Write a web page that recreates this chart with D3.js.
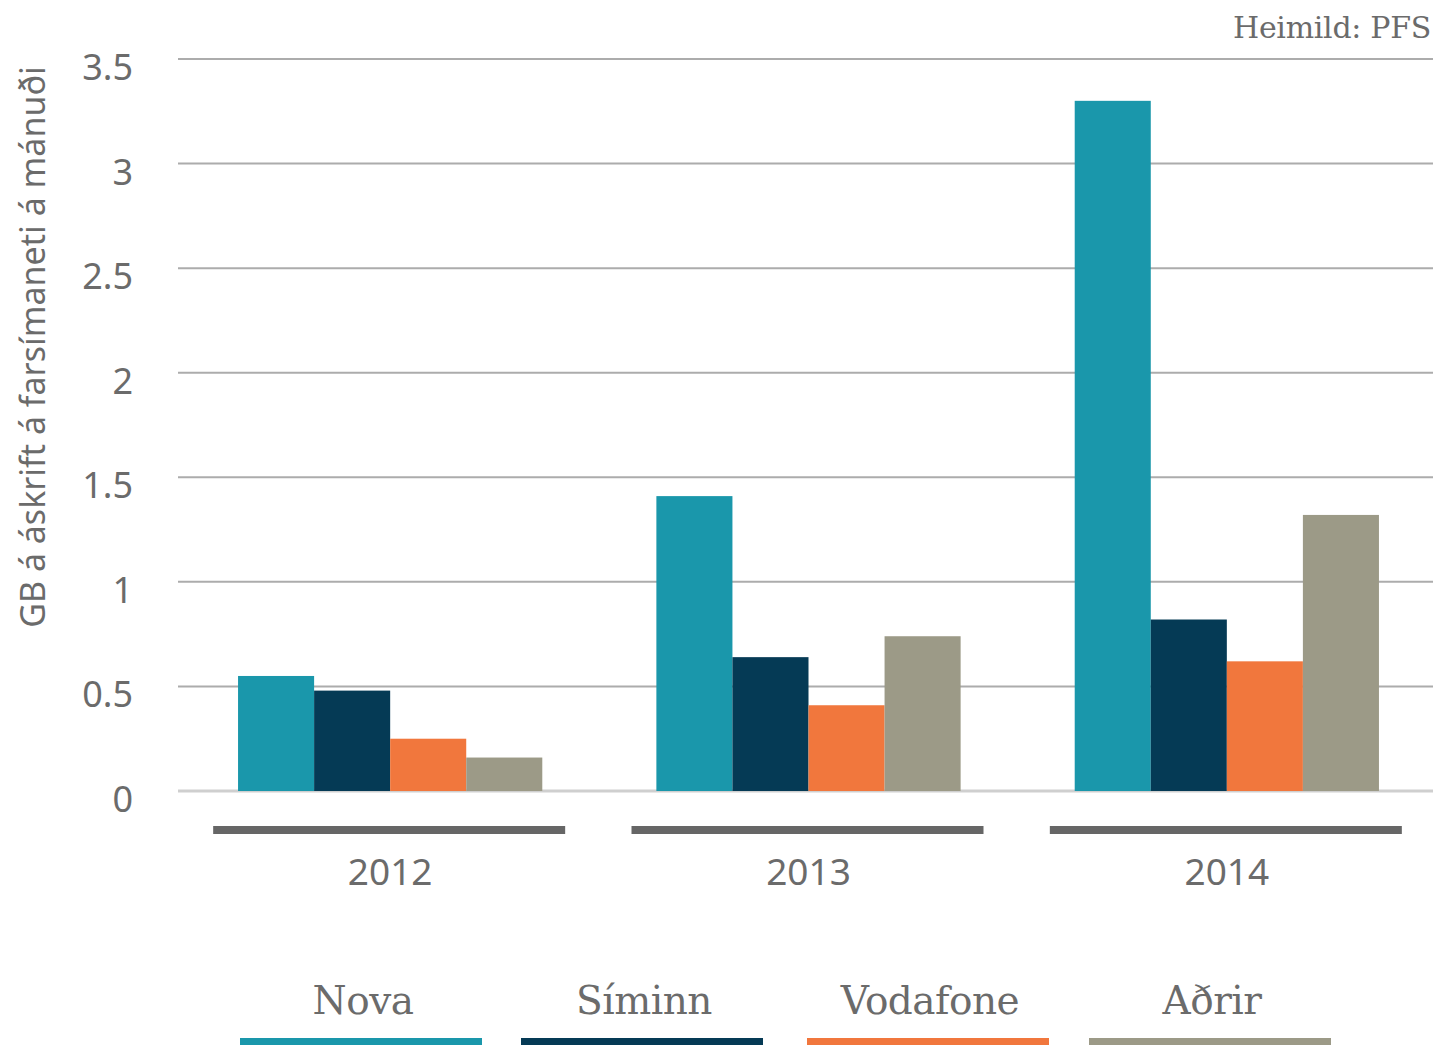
<!DOCTYPE html>
<html>
<head>
<meta charset="utf-8">
<script src="https://cdn.jsdelivr.net/npm/d3@7"></script>
<style>
  body { margin: 0; background: #fff; }
  svg text { fill: #6b6b6b; }
</style>
</head>
<body>
<svg id="chart" width="1437" height="1045"></svg>
<script>
var years = ["2012", "2013", "2014"];
var companies = ["Nova", "Síminn", "Vodafone", "Aðrir"];
var nova = [0.55, 1.41, 3.30];
var siminn = [0.48, 0.64, 0.82];
var vodafone = [0.25, 0.41, 0.62];
var adrir = [0.16, 0.74, 1.32];
var yTicks = [0, 0.5, 1, 1.5, 2, 2.5, 3, 3.5];
var colors = ["#1a97ab", "#053a55", "#f1773d", "#9c9a87"];

var series = [nova, siminn, vodafone, adrir];

var svg = d3.select("#chart"),
  plotLeft = 178, plotRight = 1433, plotTop = 59, plotBottom = 791;

var sans = "'Noto Sans', 'Open Sans', sans-serif",
  slab = "'DejaVu Serif', serif";

var x0 = d3.scaleBand().domain(years).range([plotLeft, plotRight]);
var x1 = d3.scaleBand().domain(companies)
  .range([3, x0.bandwidth() + 3]).paddingOuter(0.75).paddingInner(0);
var y = d3.scaleLinear().domain([0, 3.5]).range([plotBottom, plotTop]);

// gridlines
svg.append("g").selectAll("line")
  .data(yTicks)
  .join("line")
  .attr("x1", plotLeft).attr("x2", plotRight)
  .attr("y1", function (d) { return y(d); })
  .attr("y2", function (d) { return y(d); })
  .attr("stroke", function (d) { return d === 0 ? "#cfcfcf" : "#acacac"; })
  .attr("stroke-width", function (d) { return d === 0 ? 3 : 2; });

// y tick labels
svg.append("g").selectAll("text")
  .data(yTicks)
  .join("text")
  .attr("x", 133)
  .attr("y", function (d) { return y(d) + 21; })
  .attr("text-anchor", "end")
  .style("font-family", sans)
  .style("font-size", "36px")
  .text(function (d) { return d; });

// axis title
svg.append("text")
  .attr("transform", "translate(45,347) rotate(-90)")
  .attr("text-anchor", "middle")
  .style("font-family", sans)
  .style("font-size", "34px")
  .text("GB á áskrift á farsímaneti á mánuði");

// bars
var groups = svg.append("g").selectAll("g")
  .data(years)
  .join("g")
  .attr("transform", function (d) { return "translate(" + x0(d) + ",0)"; });

groups.selectAll("rect")
  .data(function (d, i) {
    return companies.map(function (c, j) { return { company: c, value: series[j][i], color: colors[j] }; });
  })
  .join("rect")
  .attr("x", function (d) { return x1(d.company); })
  .attr("width", x1.bandwidth())
  .attr("y", function (d) { return y(d.value); })
  .attr("height", function (d) { return y(0) - y(d.value); })
  .attr("fill", function (d) { return d.color; });

// category bars and labels
groups.append("rect")
  .attr("x", x0.bandwidth() / 2 - 174)
  .attr("width", 352)
  .attr("y", 826)
  .attr("height", 8)
  .attr("fill", "#666");

groups.append("text")
  .attr("x", x0.bandwidth() / 2 + 3)
  .attr("y", 885)
  .attr("text-anchor", "middle")
  .style("font-family", sans)
  .style("font-size", "37px")
  .text(function (d) { return d; });

// source
svg.append("text")
  .attr("x", 1431)
  .attr("y", 38)
  .attr("text-anchor", "end")
  .style("font-family", slab)
  .style("font-size", "30px")
  .style("letter-spacing", "-0.3px")
  .text("Heimild: PFS");

// legend
var legendX = d3.scaleOrdinal().domain(companies).range([240, 521, 807, 1089]);
var legend = svg.append("g").selectAll("g")
  .data(companies)
  .join("g")
  .attr("transform", function (d) { return "translate(" + legendX(d) + ",0)"; });

legend.append("rect")
  .attr("x", 0).attr("y", 1038)
  .attr("width", 242).attr("height", 10)
  .attr("fill", function (d, i) { return colors[i]; });

legend.append("text")
  .attr("x", 123)
  .attr("y", 1014)
  .attr("text-anchor", "middle")
  .style("font-family", slab)
  .style("font-size", "39px")
  .style("letter-spacing", "-0.5px")
  .text(function (d) { return d; });
</script>
</body>
</html>
